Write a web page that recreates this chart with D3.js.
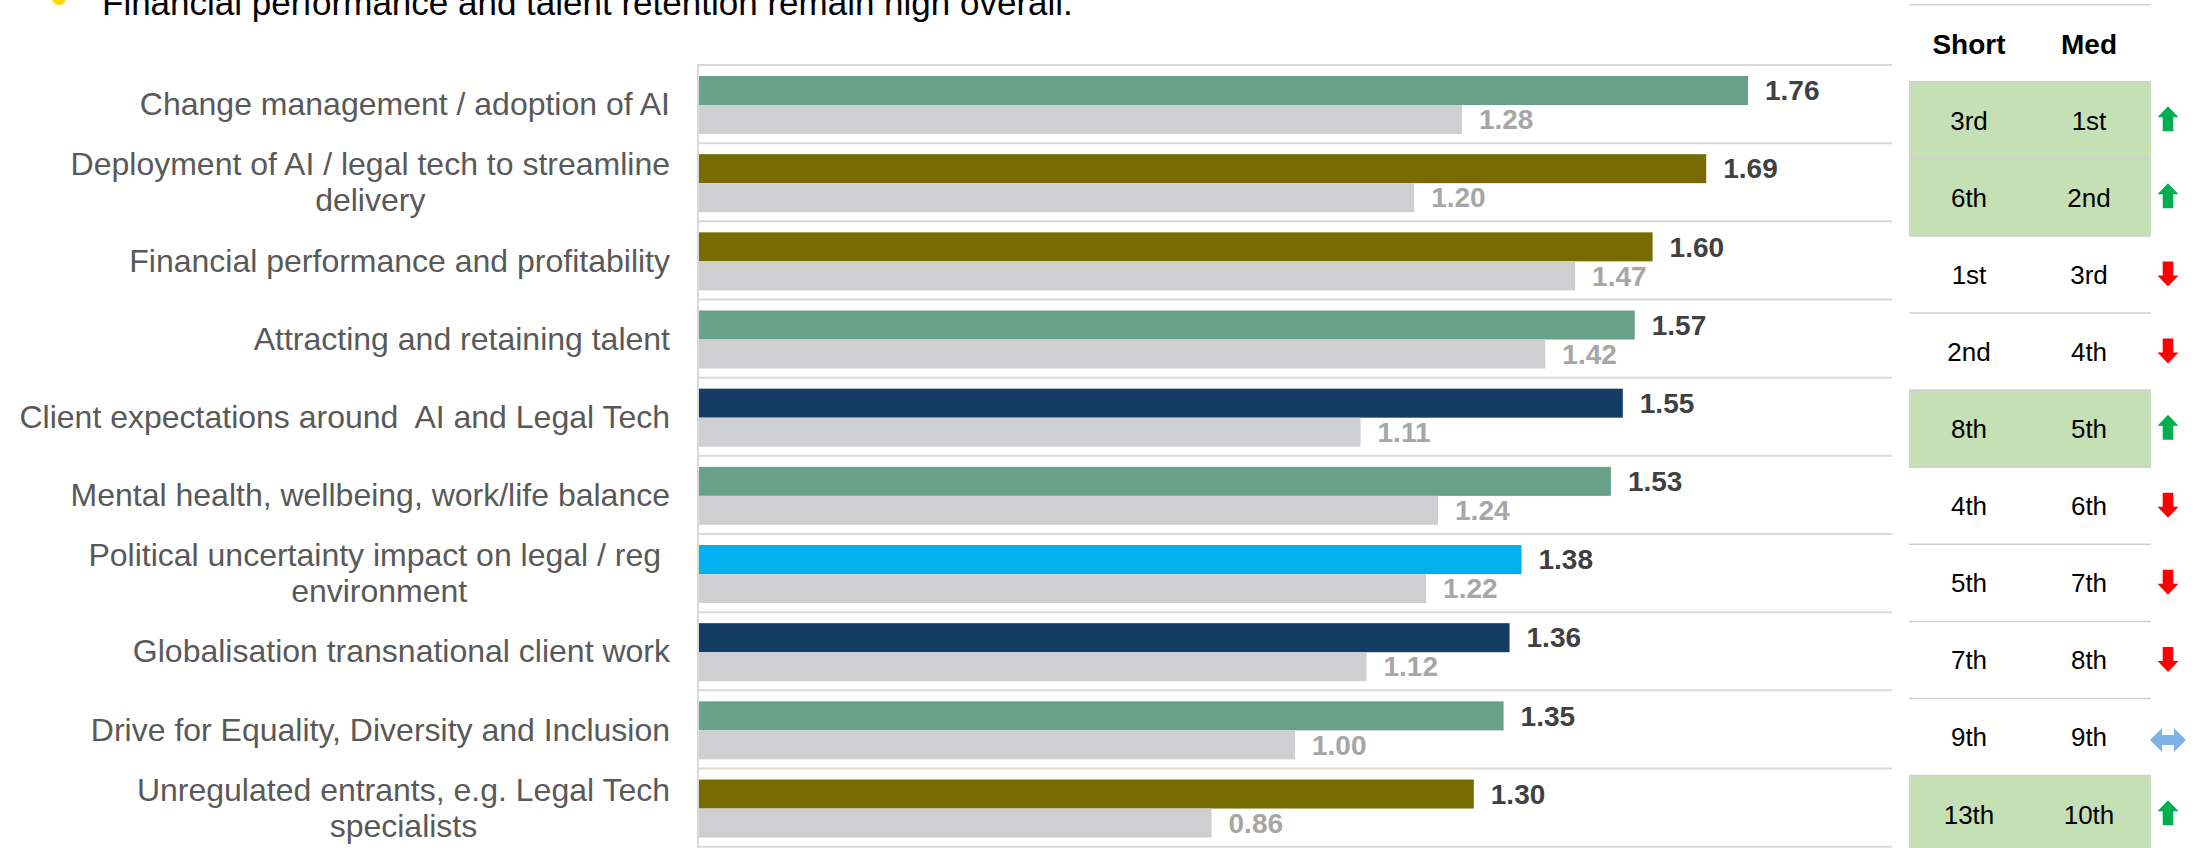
<!DOCTYPE html>
<html>
<head>
<meta charset="utf-8">
<script src="https://cdn.jsdelivr.net/npm/d3@7"></script>
<style>
  html, body { margin: 0; padding: 0; background: #ffffff; }
  svg { display: block; font-family: "Liberation Sans", Arial, sans-serif; }
  text { white-space: pre; }
</style>
</head>
<body>
<svg id="chart" width="2197" height="848"></svg>
<script>
// Issue categories ("\n" marks where a label wraps onto a second line)
const categories = [
  "Change management / adoption of AI",
  "Deployment of AI / legal tech to streamline\ndelivery",
  "Financial performance and profitability",
  "Attracting and retaining talent",
  "Client expectations around  AI and Legal Tech",
  "Mental health, wellbeing, work/life balance",
  "Political uncertainty impact on legal / reg \nenvironment",
  "Globalisation transnational client work",
  "Drive for Equality, Diversity and Inclusion",
  "Unregulated entrants, e.g. Legal Tech\nspecialists"
];
// Current average score and the previous survey's score
const current  = [1.76, 1.69, 1.60, 1.57, 1.55, 1.53, 1.38, 1.36, 1.35, 1.30];
const previous = [1.28, 1.20, 1.47, 1.42, 1.11, 1.24, 1.22, 1.12, 1.00, 0.86];
// Theme of each issue (drives the bar colour)
const themes = ["people", "operations", "operations", "people", "clients",
                "people", "external", "clients", "people", "operations"];
// Ranking table
const tableHeaders = ["Short", "Med"];
const shortRank = ["3rd", "6th", "1st", "2nd", "8th", "4th", "5th", "7th", "9th", "13th"];
const medRank   = ["1st", "2nd", "3rd", "4th", "5th", "6th", "7th", "8th", "9th", "10th"];
const movement  = ["up", "up", "down", "down", "up", "down", "down", "down", "same", "up"];
const headline  = "Financial performance and talent retention remain high overall.";

const svg = d3.select("#chart");

const themeColour = d3.scaleOrdinal()
  .domain(["people", "operations", "clients", "external"])
  .range(["#69a088", "#786b00", "#143b62", "#00b0f0"]);
const previousColour = "#cfcfd1";
const gridColour = "#d9d9d9";

// ---- headline with bullet ----
svg.append("circle").attr("cx", 59).attr("cy", -2).attr("r", 7).attr("fill", "#ffd800");
svg.append("text")
  .attr("x", 102).attr("y", 15)
  .attr("font-size", 35).attr("fill", "#000000")
  .text(headline);

// ---- scales ----
const x = d3.scaleLinear().domain([0, 2]).range([699, 1891]);
const rows = d3.scaleBand().domain(d3.range(categories.length)).range([65, 846.7]);
const pair = d3.scaleBand().domain(["current", "previous"]).range([11, 69]);

// ---- grid / frame ----
const grid = svg.append("g");
d3.range(categories.length + 1).forEach(i => {
  const yy = 65 + i * rows.step();
  grid.append("line")
    .attr("x1", 697).attr("x2", 1892).attr("y1", yy).attr("y2", yy)
    .attr("stroke", gridColour).attr("stroke-width", 2);
});
grid.append("line")
  .attr("x1", 698).attr("x2", 698).attr("y1", 64).attr("y2", 848)
  .attr("stroke", gridColour).attr("stroke-width", 2);

// ---- bars ----
const rowG = svg.append("g").selectAll("g")
  .data(categories.map((c, i) => ({ c, i })))
  .join("g")
  .attr("transform", d => `translate(0,${rows(d.i)})`);

rowG.append("rect")
  .attr("x", x(0)).attr("y", pair("current"))
  .attr("width", d => x(current[d.i]) - x(0)).attr("height", pair.bandwidth())
  .attr("fill", d => themeColour(themes[d.i]));

rowG.append("rect")
  .attr("x", x(0)).attr("y", pair("previous"))
  .attr("width", d => x(previous[d.i]) - x(0)).attr("height", pair.bandwidth())
  .attr("fill", previousColour);

rowG.append("text")
  .attr("x", d => x(current[d.i]) + 17)
  .attr("y", pair("current") + pair.bandwidth() / 2)
  .attr("dy", "0.35em")
  .attr("font-size", 28).attr("font-weight", "bold").attr("fill", "#404040")
  .text(d => d3.format(".2f")(current[d.i]));

rowG.append("text")
  .attr("x", d => x(previous[d.i]) + 17)
  .attr("y", pair("previous") + pair.bandwidth() / 2)
  .attr("dy", "0.35em")
  .attr("font-size", 28).attr("font-weight", "bold").attr("fill", "#a6a6a6")
  .text(d => d3.format(".2f")(previous[d.i]));

// ---- category labels (right-aligned block, lines centred within it) ----
const labelRight = 670, labelSize = 32, lineGap = 36;
rowG.each(function (d) {
  const g = d3.select(this);
  const lines = d.c.split("\n");
  const cy = rows.bandwidth() / 2;
  const texts = lines.map((ln, k) => g.append("text")
    .attr("font-size", labelSize).attr("fill", "#595959")
    .attr("y", cy + (k - (lines.length - 1) / 2) * lineGap + 0.35 * labelSize)
    .text(ln));
  if (lines.length === 1) {
    texts[0].attr("x", labelRight).attr("text-anchor", "end");
  } else {
    const w = d3.max(texts, t => t.node().getComputedTextLength());
    texts.forEach(t => t.attr("x", labelRight - w / 2).attr("text-anchor", "middle"));
  }
});

// ---- ranking table ----
const tableLeft = 1909, tableRight = 2151;
const col = d3.scalePoint().domain(tableHeaders).range([1969, 2089]);
const tRows = d3.scaleBand().domain(d3.range(categories.length)).range([81.7, 81.7 + 77.1 * categories.length]);

const table = svg.append("g");
table.append("line")
  .attr("x1", tableLeft).attr("x2", tableRight).attr("y1", 4.7).attr("y2", 4.7)
  .attr("stroke", "#d4d4d4").attr("stroke-width", 1.5);
table.selectAll(".hdr").data(tableHeaders).join("text")
  .attr("x", h => col(h)).attr("y", 54)
  .attr("text-anchor", "middle").attr("font-size", 28).attr("font-weight", "bold")
  .attr("fill", "#000000").text(h => h);

const tRow = table.selectAll(".trow").data(d3.range(categories.length)).join("g")
  .attr("transform", i => `translate(0,${tRows(i)})`);

tRow.filter(i => movement[i] === "up").append("rect")
  .attr("x", tableLeft).attr("y", 0)
  .attr("width", tableRight - tableLeft).attr("height", tRows.bandwidth())
  .attr("fill", "#c5e0b4");

tRow.append("line")
  .attr("x1", tableLeft).attr("x2", tableRight).attr("y1", 0).attr("y2", 0)
  .attr("stroke", "#d0d0d0").attr("stroke-width", 1.5);

tRow.append("text")
  .attr("x", col("Short")).attr("y", tRows.bandwidth() / 2).attr("dy", "0.36em")
  .attr("text-anchor", "middle").attr("font-size", 26).attr("fill", "#000000")
  .text(i => shortRank[i]);
tRow.append("text")
  .attr("x", col("Med")).attr("y", tRows.bandwidth() / 2).attr("dy", "0.36em")
  .attr("text-anchor", "middle").attr("font-size", 26).attr("fill", "#000000")
  .text(i => medRank[i]);

// movement arrows
const arrowShape = {
  up:   { d: "M0,-12.5 L10.5,-1.5 L5.3,-1.5 L5.3,12.5 L-5.3,12.5 L-5.3,-1.5 L-10.5,-1.5 Z", fill: "#00b050", dy: -1.5 },
  down: { d: "M0,12.5 L10.5,1.5 L5.3,1.5 L5.3,-12.5 L-5.3,-12.5 L-5.3,1.5 L-10.5,1.5 Z", fill: "#ff0000", dy: -0.5 },
  same: { d: "M-18,0 L-6,-12 L-6,-5 L6,-5 L6,-12 L18,0 L6,12 L6,5 L-6,5 L-6,12 Z", fill: "#7fb1e6", dy: 3 }
};
tRow.append("path")
  .attr("d", i => arrowShape[movement[i]].d)
  .attr("fill", i => arrowShape[movement[i]].fill)
  .attr("transform", i => `translate(2168,${tRows.bandwidth() / 2 + arrowShape[movement[i]].dy})`);
</script>
</body>
</html>
